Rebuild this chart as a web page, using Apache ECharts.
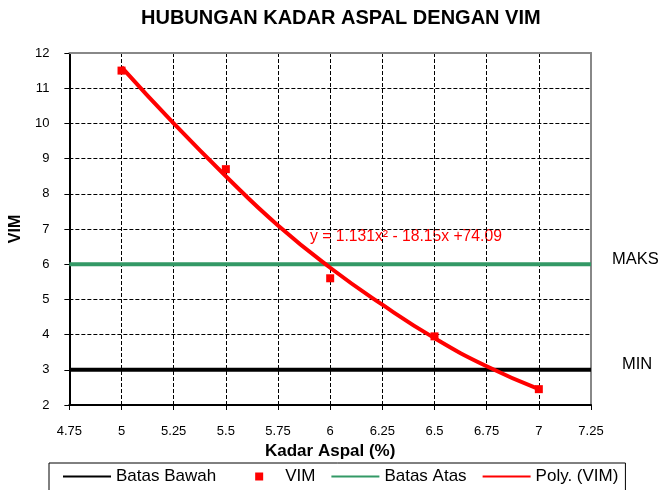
<!DOCTYPE html>
<html>
<head>
<meta charset="utf-8">
<script src="https://cdn.jsdelivr.net/npm/echarts@6/dist/echarts.min.js"></script>
<style>
  html, body { margin: 0; padding: 0; background: #fff; }
  #chart { width: 665px; height: 490px; }
</style>
</head>
<body>
<div id="chart"></div>
<script>
// data
const kadarAspal = [5, 5.5, 6, 6.5, 7]
const vim = [11.5, 8.7, 5.6, 3.95, 2.45]
// trendline
const polyX = [5, 5.25, 5.5, 5.75, 6, 6.25, 6.5, 6.75, 7]
const polyY = [11.6, 10.0, 8.5, 7.1, 5.9, 4.85, 3.9, 3.1, 2.45]
const batasBawah = 3
const batasAtas = 6
const xRange = [4.75, 7.25]
const equation = 'y = 1.131x\u00b2 - 18.15x +74.09'

const font = "'Liberation Sans', Arial, sans-serif"
const chart = echarts.init(document.getElementById('chart'))

const toPairs = (xs, ys) => xs.map((x, i) => [x, ys[i]])
const hLine = v => xRange.map(x => [x, v])

const option = {
  animation: false,
  textStyle: { fontFamily: font },
  title: {
    text: 'HUBUNGAN KADAR ASPAL DENGAN VIM',
    left: 141,
    top: 8,
    padding: 0,
    textStyle: { fontSize: 20, fontWeight: 'bold', color: '#000', fontFamily: font }
  },
  grid: { left: 67, right: 74, top: 53, bottom: 85 },
  legend: {
    left: 49,
    top: 463,
    padding: [5, 7, 20, 14],
    borderColor: '#000',
    borderWidth: 1,
    borderRadius: 0,
    itemWidth: 48,
    itemHeight: 14,
    itemGap: 16,
    textStyle: { fontSize: 17, color: '#000', fontFamily: font },
    data: [
      { name: 'Batas Bawah', icon: 'path://M0,0H48V2H0Z' },
      { name: 'VIM', icon: 'path://M0,0M48,0M23,0h8v8h-8z' },
      { name: 'Batas Atas', icon: 'path://M0,0H48V2H0Z' },
      { name: 'Poly. (VIM)', icon: 'path://M0,0H48V2H0Z' }
    ]
  },
  graphic: [{
    type: 'text',
    left: 310,
    top: 229,
    style: { text: equation, fill: '#ff0000', fontSize: 15.7, fontFamily: font }
  }],
  xAxis: [{
    type: 'value',
    min: xRange[0],
    max: xRange[1],
    interval: 0.25,
    name: 'Kadar Aspal (%)',
    nameLocation: 'middle',
    nameGap: 38,
    nameTextStyle: { fontSize: 17, fontWeight: 'bold', color: '#000', fontFamily: font },
    axisLine: { onZero: false, lineStyle: { color: '#000', width: 2 } },
    axisTick: { show: true, length: 5, lineStyle: { color: '#000' } },
    axisLabel: { margin: 20, fontSize: 13, color: '#000', fontFamily: font },
    splitLine: { show: true, lineStyle: { color: '#000', type: [4, 2], width: 1 } }
  }, {
    type: 'value',
    position: 'top',
    min: xRange[0],
    max: xRange[1],
    axisLine: { onZero: false, lineStyle: { color: '#888', width: 2 } },
    axisTick: { show: false },
    axisLabel: { show: false },
    splitLine: { show: false }
  }],
  yAxis: [{
    type: 'value',
    min: 2,
    max: 12,
    interval: 1,
    name: 'VIM',
    nameLocation: 'middle',
    nameGap: 44,
    nameTextStyle: { fontSize: 16, fontWeight: 'bold', color: '#000', fontFamily: font },
    axisLine: { show: true, onZero: false, lineStyle: { color: '#000', width: 2 } },
    axisTick: { show: true, length: 5, lineStyle: { color: '#000' } },
    axisLabel: { margin: 20, fontSize: 13, color: '#000', fontFamily: font },
    splitLine: { show: true, lineStyle: { color: '#000', type: [4, 2], width: 1 } }
  }, {
    type: 'value',
    position: 'right',
    min: 2,
    max: 12,
    axisLine: { show: true, onZero: false, lineStyle: { color: '#888', width: 2 } },
    axisTick: { show: false },
    axisLabel: { show: false },
    splitLine: { show: false }
  }],
  series: [
    {
      name: 'Batas Bawah',
      type: 'line',
      data: hLine(batasBawah),
      symbol: 'none',
      color: '#000',
      lineStyle: { color: '#000', width: 4 },
      endLabel: {
        show: true,
        formatter: 'MIN',
        fontSize: 16.5,
        color: '#000',
        fontFamily: font,
        distance: 0,
        offset: [31, -5]
      },
      z: 3
    },
    {
      name: 'VIM',
      type: 'line',
      data: toPairs(kadarAspal, vim),
      lineStyle: { width: 0 },
      symbol: 'rect',
      symbolSize: 8,
      color: '#ff0000',
      itemStyle: { color: '#ff0000' },
      z: 4
    },
    {
      name: 'Batas Atas',
      type: 'line',
      data: hLine(batasAtas),
      symbol: 'none',
      color: '#339966',
      lineStyle: { color: '#339966', width: 4 },
      endLabel: {
        show: true,
        formatter: 'MAKS',
        fontSize: 16.5,
        color: '#000',
        fontFamily: font,
        distance: 0,
        offset: [21, -5]
      },
      z: 3
    },
    {
      name: 'Poly. (VIM)',
      type: 'line',
      data: toPairs(polyX, polyY),
      smooth: true,
      symbol: 'none',
      color: '#ff0000',
      lineStyle: { color: '#ff0000', width: 4 },
      z: 5
    }
  ]
}

chart.setOption(option)
</script>
</body>
</html>
